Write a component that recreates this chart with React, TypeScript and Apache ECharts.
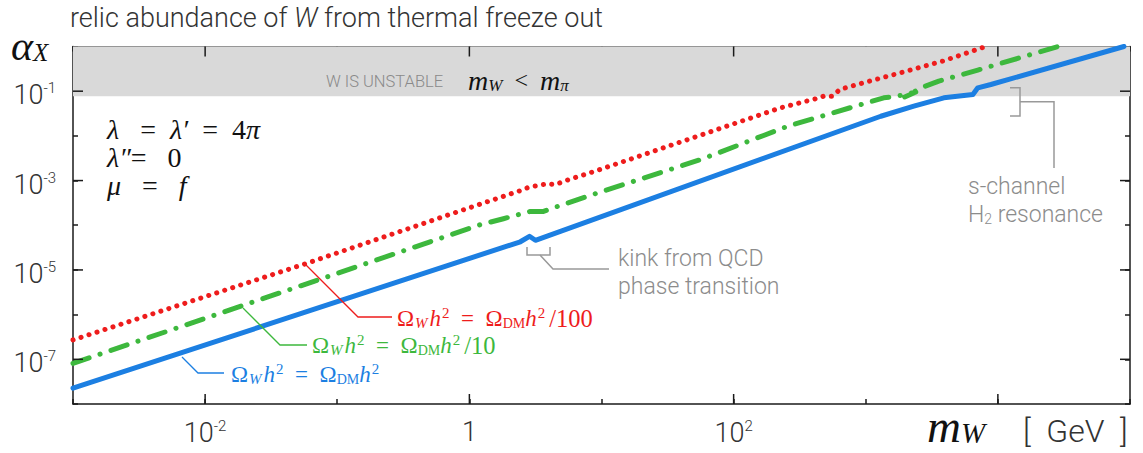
import React, { useEffect, useRef } from "react";
import * as echarts from "echarts";

const W = 1143;
const H = 453;
const X_MIN = 1e-3;
const X_MAX = 1e5;
const Y_MIN = 1e-8;
const Y_MAX = 1;
const BAND_LOW = 0.077;

// m_W [GeV] and alpha_X for Omega_W h^2 = Omega_DM h^2
const blueMass = [0.001, 2.43, 2.85, 3.16, 1300, 2312, 3899, 6471, 7047, 8851, 90000];
const blueAlpha = [2.26e-8, 4.27e-5, 5.66e-5, 4.61e-5, 2.75e-2, 4.61e-2, 7.11e-2, 8.43e-2, 0.119, 0.141, 1.0];

// Omega_W h^2 = Omega_DM h^2 / 10
const greenMass = [0.001, 1.21, 1.81, 2.9, 3.64, 4.65, 9.49, 56.2, 256, 869, 1368, 1718, 2393, 1972, 2704, 3573, 7047, 28510];
const greenAlpha = [8.13e-8, 1.03e-4, 1.4e-4, 2.04e-4, 2.04e-4, 2.64e-4, 5.36e-4, 2.94e-3, 1.64e-2, 4.78e-2, 7.11e-2, 7.73e-2, 9.59e-2, 7.41e-2, 0.124, 0.168, 0.296, 1.0];

// Omega_W h^2 = Omega_DM h^2 / 100
const redMass = [0.001, 0.0573, 1.02, 2.43, 2.8, 3.9, 4.49, 5.15, 9.33, 227, 418, 481, 562, 635, 1000, 1841, 3828, 8110];
const redAlpha = [2.71e-7, 1.37e-5, 2.51e-4, 5.94e-4, 7.05e-4, 8.53e-4, 8.09e-4, 9.59e-4, 1.69e-3, 4.25e-2, 6.76e-2, 7.73e-2, 7.73e-2, 0.109, 0.159, 0.259, 0.471, 1.0];

const xMajorTicks = [0.01, 1, 100, 10000];
const yMajorTicks = [1e-1, 1e-3, 1e-5, 1e-7];
const xLabelExps = [-2, 0, 2];
const yLabelExps = [-1, -3, -5, -7];

const SANS = "Roboto, 'Liberation Sans', sans-serif";
const SERIF = "'Liberation Serif', 'DejaVu Serif', serif";
const AXIS_COLOR = "#1a1a1a";
const TEXT_COLOR = "#333333";
const ANNOT = "#8c8c8c";
const RED = "#ee1c1c";
const GREEN = "#3db83d";
const BLUE = "#1c7fe2";

const zip = (a: number[], b: number[]) => a.map((v, i) => [v, b[i]]);

const tickLabelRich = {
  b: { fontFamily: SANS, fontWeight: 300, fontSize: 27, color: TEXT_COLOR },
  s: { fontFamily: SANS, fontWeight: 300, fontSize: 15, color: TEXT_COLOR, padding: [0, 0, 14, 0] },
};

const expLabel = (v: number, allowed: number[]) => {
  const e = Math.round(Math.log10(v));
  if (!allowed.includes(e)) return "";
  if (e === 0) return "{b|1}";
  return `{b|10}{s|${e}}`;
};

const omegaRich = (fill: string) => ({
  o: { fontFamily: SERIF, fontSize: 23, fill },
  i: { fontFamily: SERIF, fontStyle: "italic", fontSize: 23, fill },
  sub: { fontFamily: SERIF, fontStyle: "italic", fontSize: 15, fill, padding: [10, 2, 0, 1] },
  subr: { fontFamily: SERIF, fontSize: 14, fill, padding: [10, 0, 0, 0] },
  sup: { fontFamily: SERIF, fontSize: 15, fill, padding: [0, 0, 10, 1] },
  suf: { fontFamily: SERIF, fontSize: 24.5, fill, padding: [0, 0, 0, 4] },
});

const omegaText = (suffix: string) =>
  `{o|Ω}{sub|W}{i|h}{sup|2}{o|  =  Ω}{subr|DM}{i|h}{sup|2}` + (suffix ? `{suf|${suffix}}` : "");

export default function App() {
  const ref = useRef<HTMLDivElement>(null);

  useEffect(() => {
    if (!ref.current) return;
    const chart = echarts.init(ref.current, null, { renderer: "svg", width: W, height: H });

    const axisCommon = {
      type: "log" as const,
      logBase: 10,
      splitLine: { show: false },
      axisLine: { show: true, onZero: false, lineStyle: { color: AXIS_COLOR, width: 1.5 } },
      axisTick: { show: true, inside: true, length: 5, lineStyle: { color: AXIS_COLOR, width: 1.5 } },
    };

    const tickStyle = { stroke: AXIS_COLOR, lineWidth: 1.5 };

    const lineCommon = {
      type: "line" as const,
      symbol: "none",
      smooth: false,
      clip: true,
      z: 3,
    };

    const annotText = (x: number, y: number, text: string) => ({
      type: "text",
      x,
      y,
      z: 10,
      style: { text, verticalAlign: "middle", fontFamily: SANS, fontWeight: 300, fontSize: 23, fill: ANNOT },
    });

    chart.setOption({
      animation: false,
      backgroundColor: "#ffffff",
      grid: { left: 73, right: 13, top: 46.5, bottom: 49 },
      xAxis: [
        {
          ...axisCommon,
          position: "bottom",
          min: X_MIN,
          max: X_MAX,
          axisLabel: {
            show: true,
            margin: 14,
            formatter: (v: number) => expLabel(v, xLabelExps),
            rich: tickLabelRich,
          },
        },
        {
          ...axisCommon,
          position: "top",
          min: X_MIN,
          max: X_MAX,
          axisLabel: { show: false },
        },
      ],
      yAxis: [
        {
          ...axisCommon,
          position: "left",
          min: Y_MIN,
          max: Y_MAX,
          axisLabel: {
            show: true,
            margin: 17,
            padding: [8, 0, 0, 0],
            formatter: (v: number) => expLabel(v, yLabelExps),
            rich: tickLabelRich,
          },
        },
        {
          ...axisCommon,
          position: "right",
          min: Y_MIN,
          max: Y_MAX,
          axisLabel: { show: false },
        },
      ],
      series: [
        {
          type: "custom",
          z: 1,
          silent: true,
          data: [[X_MIN, BAND_LOW, X_MAX, Y_MAX]],
          renderItem: (params: any, api: any) => {
            const p0 = api.coord([api.value(0), api.value(3)]);
            const p1 = api.coord([api.value(2), api.value(1)]);
            return {
              type: "rect",
              shape: { x: p0[0], y: p0[1], width: p1[0] - p0[0], height: p1[1] - p0[1] },
              style: { fill: "#d9d9d9" },
            };
          },
        },
        {
          ...lineCommon,
          name: "red",
          data: zip(redMass, redAlpha),
          lineStyle: { color: RED, width: 5, type: [0.1, 8.3], cap: "round", join: "round" },
        },
        {
          ...lineCommon,
          name: "green",
          data: zip(greenMass, greenAlpha),
          lineStyle: { color: GREEN, width: 5, type: [17, 11.5, 0.1, 11.5], cap: "round", join: "round" },
        },
        {
          ...lineCommon,
          name: "blue",
          data: zip(blueMass, blueAlpha),
          lineStyle: { color: BLUE, width: 5, cap: "round", join: "round" },
        },
        {
          type: "custom",
          z: 5,
          silent: true,
          data: xMajorTicks.map((v) => [v, Y_MIN]),
          renderItem: (params: any, api: any) => {
            const v = api.value(0);
            const pb = api.coord([v, Y_MIN]);
            const pt = api.coord([v, Y_MAX]);
            return {
              type: "group",
              children: [
                { type: "line", shape: { x1: pb[0], y1: pb[1], x2: pb[0], y2: pb[1] - 10 }, style: tickStyle },
                { type: "line", shape: { x1: pt[0], y1: pt[1], x2: pt[0], y2: pt[1] + 10 }, style: tickStyle },
              ],
            };
          },
        },
        {
          type: "custom",
          z: 5,
          silent: true,
          data: yMajorTicks.map((v) => [X_MIN, v]),
          renderItem: (params: any, api: any) => {
            const v = api.value(1);
            const pl = api.coord([X_MIN, v]);
            const pr = api.coord([X_MAX, v]);
            return {
              type: "group",
              children: [
                { type: "line", shape: { x1: pl[0], y1: pl[1], x2: pl[0] + 10, y2: pl[1] }, style: tickStyle },
                { type: "line", shape: { x1: pr[0], y1: pr[1], x2: pr[0] - 10, y2: pr[1] }, style: tickStyle },
              ],
            };
          },
        },
      ],
      graphic: [
        {
          type: "text",
          x: 70,
          y: 18,
          z: 10,
          style: {
            text: "{n|relic abundance of }{it|W}{n| from thermal freeze out}",
            verticalAlign: "middle",
            rich: {
              n: { fontFamily: SANS, fontWeight: 300, fontSize: 27, fill: TEXT_COLOR },
              it: { fontFamily: SANS, fontWeight: 300, fontStyle: "italic", fontSize: 27, fill: TEXT_COLOR },
            },
          },
        },
        {
          type: "text",
          x: 11,
          y: 46,
          z: 10,
          style: {
            text: "{a|α}{x|X}",
            verticalAlign: "middle",
            rich: {
              a: { fontFamily: SERIF, fontStyle: "italic", fontSize: 42, fill: "#111" },
              x: { fontFamily: SERIF, fontStyle: "italic", fontSize: 25, fill: "#111", padding: [12, 0, 0, 0] },
            },
          },
        },
        {
          type: "text",
          x: 326,
          y: 81,
          z: 10,
          style: {
            text: "W IS UNSTABLE",
            verticalAlign: "middle",
            fontFamily: SANS,
            fontWeight: 300,
            fontSize: 16.5,
            fill: "#8a8a8a",
          },
        },
        {
          type: "text",
          x: 468,
          y: 80,
          z: 10,
          style: {
            text: "{m|m}{s|W}{o|  <  }{m|m}{s|π}",
            verticalAlign: "middle",
            rich: {
              m: { fontFamily: SERIF, fontStyle: "italic", fontSize: 28, fill: "#111" },
              o: { fontFamily: SERIF, fontSize: 24, fill: "#111" },
              s: { fontFamily: SERIF, fontStyle: "italic", fontSize: 17, fill: "#111", padding: [10, 0, 0, 0] },
            },
          },
        },
        ...[
          { y: 129, t: "{i|λ}{o|   =  }{i|λ′}{o|  =  4}{i|π}" },
          { y: 157, t: "{i|λ″}{o|=   0}" },
          { y: 185, t: "{i|μ}{o|   =   }{i|f}" },
        ].map((l) => ({
          type: "text",
          x: 107,
          y: l.y,
          z: 10,
          style: {
            text: l.t,
            verticalAlign: "middle",
            rich: {
              i: { fontFamily: SERIF, fontStyle: "italic", fontSize: 28, fill: "#111" },
              o: { fontFamily: SERIF, fontSize: 28, fill: "#111" },
            },
          },
        })),
        // s-channel resonance annotation
        {
          type: "polyline",
          z: 10,
          shape: { points: [[1010, 87.7], [1020, 87.7], [1020, 116], [1010, 116]] },
          style: { stroke: "#999", lineWidth: 1.5, fill: "none" },
        },
        {
          type: "polyline",
          z: 10,
          shape: { points: [[1020, 101.7], [1054, 101.7], [1054, 168]] },
          style: { stroke: "#999", lineWidth: 1.5, fill: "none" },
        },
        annotText(968, 186, "s-channel"),
        {
          type: "text",
          x: 968,
          y: 214,
          z: 10,
          style: {
            text: "{n|H}{s|2}{n| resonance}",
            verticalAlign: "middle",
            rich: {
              n: { fontFamily: SANS, fontWeight: 300, fontSize: 23, fill: ANNOT },
              s: { fontFamily: SANS, fontWeight: 300, fontSize: 14, fill: ANNOT, padding: [9, 0, 0, 0] },
            },
          },
        },
        // QCD kink annotation
        {
          type: "polyline",
          z: 10,
          shape: { points: [[527, 247], [527, 255], [550, 255], [550, 247]] },
          style: { stroke: "#999", lineWidth: 1.5, fill: "none" },
        },
        {
          type: "polyline",
          z: 10,
          shape: { points: [[540, 255], [553, 269], [609, 269]] },
          style: { stroke: "#999", lineWidth: 1.5, fill: "none" },
        },
        annotText(618, 258.5, "kink from QCD"),
        annotText(618, 286, "phase transition"),
        // legend leaders
        {
          type: "polyline",
          z: 10,
          shape: { points: [[305, 264], [358, 317], [392, 317]] },
          style: { stroke: RED, lineWidth: 1.3, fill: "none" },
        },
        {
          type: "text",
          x: 397,
          y: 318,
          z: 10,
          style: { text: omegaText("/100"), verticalAlign: "middle", rich: omegaRich(RED) },
        },
        {
          type: "polyline",
          z: 10,
          shape: { points: [[243, 308], [280, 345], [307, 345]] },
          style: { stroke: GREEN, lineWidth: 1.3, fill: "none" },
        },
        {
          type: "text",
          x: 312,
          y: 345,
          z: 10,
          style: { text: omegaText("/10"), verticalAlign: "middle", rich: omegaRich(GREEN) },
        },
        {
          type: "polyline",
          z: 10,
          shape: { points: [[182, 357], [198, 373], [224, 373]] },
          style: { stroke: BLUE, lineWidth: 1.3, fill: "none" },
        },
        {
          type: "text",
          x: 231,
          y: 374,
          z: 10,
          style: { text: omegaText(""), verticalAlign: "middle", rich: omegaRich(BLUE) },
        },
        // x-axis title
        {
          type: "text",
          x: 927,
          y: 426,
          z: 10,
          style: {
            text: "{m|m}{s|W}",
            verticalAlign: "middle",
            rich: {
              m: { fontFamily: SERIF, fontStyle: "italic", fontSize: 47, lineHeight: 36, fill: "#111" },
              s: { fontFamily: SERIF, fontStyle: "italic", fontSize: 29, lineHeight: 24, fill: "#111", padding: [14, 0, 0, 0] },
            },
          },
        },
        {
          type: "text",
          x: 1023,
          y: 431,
          z: 10,
          style: { text: "[  GeV  ]", verticalAlign: "middle", fontFamily: SANS, fontWeight: 300, fontSize: 32, fill: TEXT_COLOR },
        },
      ],
    });

    return () => chart.dispose();
  }, []);

  return (
    <div
      ref={ref}
      style={{ position: "absolute", left: 0, top: 0, width: W, height: H, background: "#fff" }}
    />
  );
}
